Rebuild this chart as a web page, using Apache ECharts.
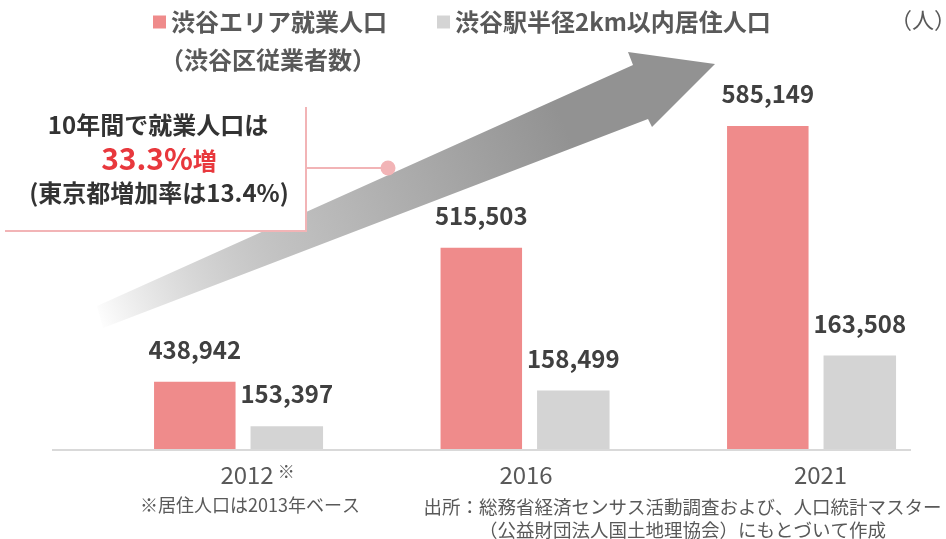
<!DOCTYPE html>
<html>
<head>
<meta charset="utf-8">
<script src="https://cdn.jsdelivr.net/npm/echarts@6/dist/echarts.min.js"></script>
<style>
  html, body { margin: 0; padding: 0; background: #ffffff; }
  #chart { width: 946px; height: 539px; }
</style>
</head>
<body>
<div id="chart"></div>
<script>
// Survey years and their footnote marks
const years = ['2012', '2016', '2021'];
const yearMarks = ['※', '', ''];

// 渋谷区従業者数 (people)
const workers = [438942, 515503, 585149];
// 渋谷駅半径2km以内居住人口 (people)
const residents = [153397, 158499, 163508];

const workerName = '渋谷エリア就業人口';
const workerSub = '（渋谷区従業者数）';
const residentName = '渋谷駅半径2km以内居住人口';
const unitText = '（人）';

// Each series runs on its own truncated value axis
const workerRange = [400000, 600000];
const residentRange = [150000, 200000];

const calloutLines = ['10年間で就業人口は', '33.3%', '増', '(東京都増加率は13.4%)'];
const notes = [
  '※居住人口は2013年ベース',
  '出所：総務省経済センサス活動調査および、人口統計マスター',
  '（公益財団法人国土地理協会）にもとづいて作成'
];

const FONT = '"Noto Sans CJK JP", "Noto Sans", sans-serif';
const PINK = '#EF8B8B';
const GREY = '#D4D4D4';
const LINE_PINK = '#F2B4B6';
const TEXT = '#595959';

const chart = echarts.init(document.getElementById('chart'), null, { renderer: 'canvas' });

const valueLabel = {
  show: true,
  position: 'top',
  distance: 20,
  fontFamily: FONT,
  fontSize: 24,
  fontWeight: 'bold',
  color: '#404040',
  formatter: p => echarts.format.addCommas(p.value)
};

const option = {
  animation: false,
  backgroundColor: '#ffffff',
  textStyle: { fontFamily: FONT },
  legend: {
    data: [workerName, residentName],
    left: 153,
    top: 10,
    padding: 0,
    icon: 'rect',
    itemWidth: 13,
    itemHeight: 13,
    itemGap: 50,
    selectedMode: false,
    textStyle: { fontFamily: FONT, fontSize: 24, fontWeight: 'bold', color: TEXT }
  },
  grid: { left: 95.3, width: 859.5, top: 100, bottom: 89, outerBoundsMode: 'none', containLabel: false },
  xAxis: {
    type: 'category',
    data: years,
    axisLine: { show: false },
    axisTick: { show: false },
    axisLabel: {
      margin: 13,
      interval: 0,
      formatter: (v, i) => `{y${i}|${v}}` + (yearMarks[i] ? `{sup|${yearMarks[i]}}` : ''),
      rich: {
        y0: { fontFamily: FONT, fontSize: 24, color: TEXT, padding: [0, 0, 0, 38] },
        y1: { fontFamily: FONT, fontSize: 24, color: TEXT, padding: [0, 0, 0, 2] },
        y2: { fontFamily: FONT, fontSize: 24, color: TEXT, padding: [0, 0, 0, 18] },
        sup: { fontFamily: FONT, fontSize: 17, color: TEXT, verticalAlign: 'middle', padding: [0, 0, 6, 4] }
      }
    }
  },
  yAxis: [
    { type: 'value', min: workerRange[0], max: workerRange[1], show: false, splitLine: { show: false } },
    { type: 'value', min: residentRange[0], max: residentRange[1], show: false, splitLine: { show: false } }
  ],
  series: [
    {
      name: workerName,
      type: 'bar',
      yAxisIndex: 0,
      data: workers,
      barWidth: 81.5,
      barGap: '18.4%',
      itemStyle: { color: PINK },
      label: valueLabel,
      z: 3
    },
    {
      name: residentName,
      type: 'bar',
      yAxisIndex: 1,
      data: residents,
      barWidth: 72.5,
      barGap: '18.4%',
      itemStyle: { color: GREY },
      label: valueLabel,
      z: 3
    }
  ],
  graphic: [
    // growth arrow fading in from the lower left
    {
      type: 'polygon',
      z: 1,
      silent: true,
      shape: { points: [[97, 306], [633, 65], [628, 52], [715, 64], [652, 127], [648, 119], [103, 328]] },
      style: {
        fill: new echarts.graphic.LinearGradient(100, 318, 560, 115, [
          { offset: 0, color: 'rgba(150,150,150,0.02)' },
          { offset: 0.45, color: '#bdbdbd' },
          { offset: 1, color: '#929292' }
        ], true)
      }
    },
    // callout panel
    { type: 'rect', z: 5, silent: true, shape: { x: 5, y: 107, width: 301, height: 124 }, style: { fill: '#ffffff' } },
    { type: 'line', z: 6, silent: true, shape: { x1: 306, y1: 107, x2: 306, y2: 232 }, style: { stroke: LINE_PINK, lineWidth: 2 } },
    { type: 'line', z: 6, silent: true, shape: { x1: 5, y1: 231, x2: 307, y2: 231 }, style: { stroke: LINE_PINK, lineWidth: 2 } },
    { type: 'line', z: 6, silent: true, shape: { x1: 306, y1: 168, x2: 386, y2: 168 }, style: { stroke: LINE_PINK, lineWidth: 2 } },
    { type: 'circle', z: 6, silent: true, shape: { cx: 388, cy: 168, r: 7.5 }, style: { fill: LINE_PINK } },
    {
      type: 'text', z: 7, silent: true, x: 158, y: 125,
      style: { text: calloutLines[0], font: `bold 24px ${FONT}`, fill: '#333333', align: 'center', verticalAlign: 'middle' }
    },
    {
      type: 'text', z: 7, silent: true, x: 159, y: 159,
      style: {
        text: `{a|${calloutLines[1]}}{b|${calloutLines[2]}}`,
        align: 'center', verticalAlign: 'middle',
        rich: {
          a: { fontFamily: FONT, fontSize: 30, fontWeight: 'bold', fill: '#E8383D', verticalAlign: 'bottom' },
          b: { fontFamily: FONT, fontSize: 24, fontWeight: 'bold', fill: '#E8383D', verticalAlign: 'bottom', padding: [0, 0, 1, 0] }
        }
      }
    },
    {
      type: 'text', z: 7, silent: true, x: 159, y: 192.5,
      style: { text: calloutLines[3], font: `bold 24px ${FONT}`, fill: '#333333', align: 'center', verticalAlign: 'middle' }
    },
    // second line of the first legend entry and the unit
    {
      type: 'text', z: 7, silent: true, x: 160, y: 60,
      style: { text: workerSub, font: `bold 24px ${FONT}`, fill: TEXT, align: 'left', verticalAlign: 'middle' }
    },
    {
      type: 'text', z: 7, silent: true, x: 923, y: 20,
      style: { text: unitText, font: `22px ${FONT}`, fill: TEXT, align: 'center', verticalAlign: 'middle' }
    },
    // baseline
    { type: 'line', z: 4, silent: true, shape: { x1: 52, y1: 450, x2: 911, y2: 450 }, style: { stroke: '#D9D9D9', lineWidth: 2 } },
    // footnotes
    {
      type: 'text', z: 7, silent: true, x: 250, y: 505,
      style: { text: notes[0], font: `18px ${FONT}`, fill: TEXT, align: 'center', verticalAlign: 'middle' }
    },
    {
      type: 'text', z: 7, silent: true, x: 682.5, y: 507,
      style: { text: notes[1], font: `18.5px ${FONT}`, fill: TEXT, align: 'center', verticalAlign: 'middle' }
    },
    {
      type: 'text', z: 7, silent: true, x: 682.5, y: 530,
      style: { text: notes[2], font: `18.5px ${FONT}`, fill: TEXT, align: 'center', verticalAlign: 'middle' }
    }
  ]
};

chart.setOption(option);
</script>
</body>
</html>
